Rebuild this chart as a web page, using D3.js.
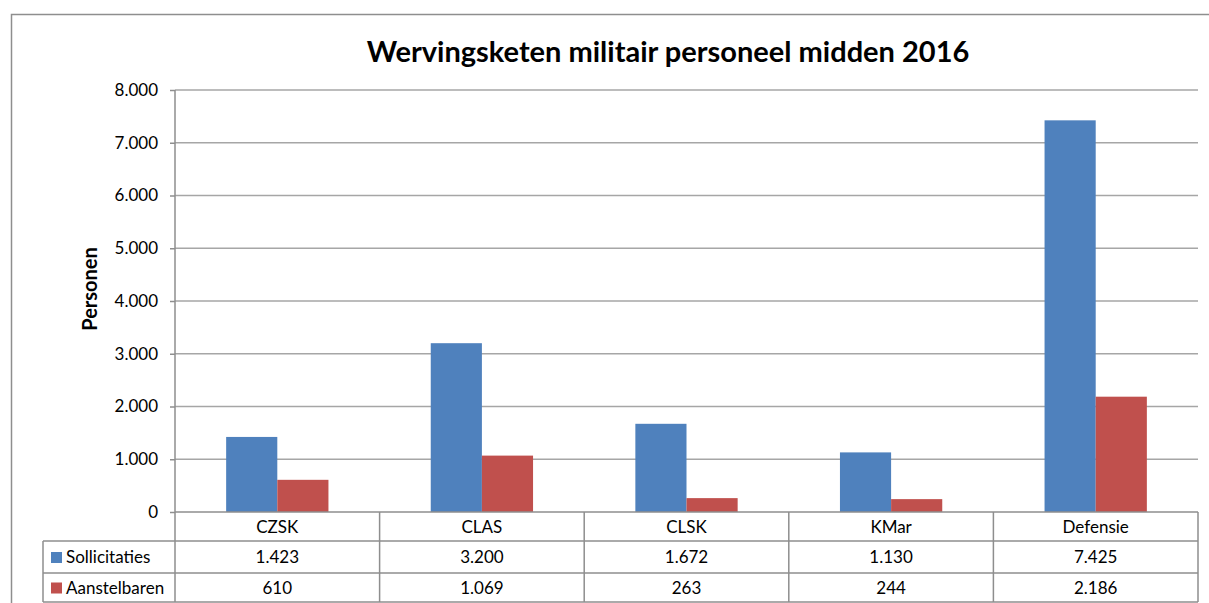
<!DOCTYPE html>
<html>
<head>
  <meta charset="utf-8">
  <title>Wervingsketen militair personeel midden 2016</title>
  <script src="https://d3js.org/d3.v7.min.js"></script>
  <style>
    body { margin:0; background:#fff; }
    svg { display:block; font-family: Lato, "Liberation Sans", sans-serif; }
  </style>
</head>
<body>
<svg id="chart" width="1209" height="603"></svg>
<script>
var categories = ["CZSK", "CLAS", "CLSK", "KMar", "Defensie"];
var seriesNames = ["Sollicitaties", "Aanstelbaren"];
var sollicitaties = [1423, 3200, 1672, 1130, 7425];
var aanstelbaren = [610, 1069, 263, 244, 2186];
var yTicks = [0, 1000, 2000, 3000, 4000, 5000, 6000, 7000, 8000];
var colors = ["#4f81bd", "#c0504d"];

var values = [sollicitaties, aanstelbaren];

// plot box (note: "top" is reserved on window, so use other names)
var plotLeft = 175, plotRight = 1198, plotTop = 90, plotBase = 512;
var rowH = [29, 32, 29]; // category row, then two series rows
var legendLeft = 43;

var nl = d3.formatLocale({decimal: ",", thousands: ".", grouping: [3], currency: ["€", ""]});
var fmt = nl.format(",d");

var svg = d3.select("#chart");

// outer frame (runs off the right and bottom of the picture)
svg.append("path")
  .attr("d", "M11.5,1000 V14.5 H1300")
  .attr("fill", "none").attr("stroke", "#8e8e8e").attr("stroke-width", 1.5);

svg.append("text")
  .attr("x", 668).attr("y", 62)
  .attr("text-anchor", "middle")
  .style("font-size", "29px").style("font-weight", "bold")
  .text("Wervingsketen militair personeel midden 2016");

var x0 = d3.scaleBand().domain(categories).range([plotLeft, plotRight]);
var x1 = d3.scaleBand().domain(d3.range(seriesNames.length))
  .range([0, x0.bandwidth()]).paddingOuter(1).paddingInner(0);
var y = d3.scaleLinear().domain([0, 8000]).range([plotBase, plotTop]);

// gridlines
svg.append("g").selectAll("line").data(yTicks.filter(function(d){ return d > 0; })).enter().append("line")
  .attr("x1", plotLeft).attr("x2", plotRight)
  .attr("y1", function(d){ return y(d); }).attr("y2", function(d){ return y(d); })
  .attr("stroke", "#a6a6a6").attr("stroke-width", 1.5);

// bars
categories.forEach(function(c, ci) {
  values.forEach(function(vals, si) {
    svg.append("rect")
      .attr("x", x0(c) + x1(si))
      .attr("y", y(vals[ci]))
      .attr("width", x1.bandwidth())
      .attr("height", plotBase - y(vals[ci]))
      .attr("fill", colors[si]);
  });
});

// y axis
var yAxis = d3.axisLeft(y).tickValues(yTicks).tickFormat(fmt).tickSize(5).tickPadding(12);
var ga = svg.append("g").attr("transform", "translate(" + plotLeft + ",0)").call(yAxis);
ga.select(".domain").remove();
ga.selectAll(".tick line").attr("stroke", "#8e8e8e").attr("stroke-width", 1.5);
ga.selectAll(".tick text").style("font-size", "17px").attr("fill", "#000")
  .style("font-family", "Lato, 'Liberation Sans', sans-serif");
svg.append("line").attr("x1", plotLeft).attr("x2", plotLeft).attr("y1", plotTop).attr("y2", plotBase)
  .attr("stroke", "#8e8e8e").attr("stroke-width", 1.5);

svg.append("text")
  .attr("transform", "translate(97,289) rotate(-90)")
  .attr("text-anchor", "middle")
  .style("font-size", "20px").style("font-weight", "bold")
  .text("Personen");

// data table
var rowTop = [plotBase, plotBase + rowH[0], plotBase + rowH[0] + rowH[1]];
var tableBottom = rowTop[2] + rowH[2];
var tbl = svg.append("g").attr("stroke", "#8e8e8e").attr("stroke-width", 1.5);
tbl.append("line").attr("x1", plotLeft).attr("x2", plotRight).attr("y1", plotBase).attr("y2", plotBase);
[rowTop[1], rowTop[2], tableBottom].forEach(function(yy) {
  tbl.append("line").attr("x1", legendLeft).attr("x2", plotRight).attr("y1", yy).attr("y2", yy);
});
tbl.append("line").attr("x1", legendLeft).attr("x2", legendLeft).attr("y1", rowTop[1]).attr("y2", tableBottom);
categories.forEach(function(c) {
  tbl.append("line").attr("x1", x0(c)).attr("x2", x0(c)).attr("y1", plotBase).attr("y2", tableBottom);
});
tbl.append("line").attr("x1", plotRight).attr("x2", plotRight).attr("y1", plotBase).attr("y2", tableBottom);

var cellFont = "17px";
categories.forEach(function(c) {
  svg.append("text")
    .attr("x", x0(c) + x0.bandwidth() / 2).attr("y", rowTop[0] + rowH[0] / 2 + 6)
    .attr("text-anchor", "middle").style("font-size", cellFont).text(c);
});
seriesNames.forEach(function(s, si) {
  var ry = rowTop[si + 1], rh = rowH[si + 1];
  svg.append("rect").attr("x", 51).attr("y", ry + rh / 2 - 5).attr("width", 11).attr("height", 11)
    .attr("fill", colors[si]);
  svg.append("text").attr("x", 66).attr("y", ry + rh / 2 + 6)
    .style("font-size", "17px").text(s);
  categories.forEach(function(c, ci) {
    svg.append("text")
      .attr("x", x0(c) + x0.bandwidth() / 2).attr("y", ry + rh / 2 + 6)
      .attr("text-anchor", "middle").style("font-size", cellFont).text(fmt(values[si][ci]));
  });
});
</script>
</body>
</html>
